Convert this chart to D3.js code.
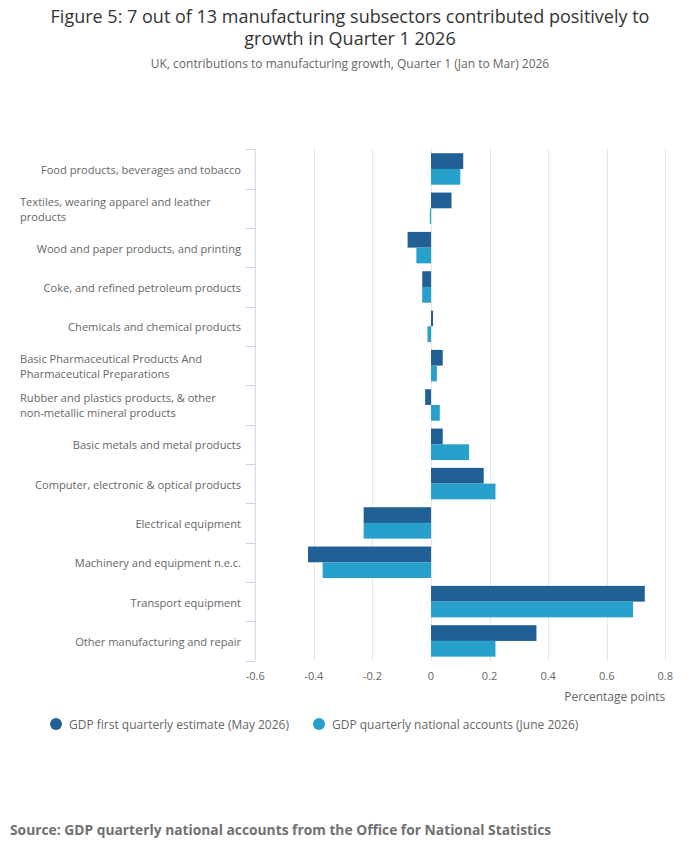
<!DOCTYPE html>
<html><head><meta charset="utf-8">
<script src="https://cdn.jsdelivr.net/npm/d3@7/dist/d3.min.js"></script>
<style>
html,body{margin:0;padding:0;background:#fff;}
svg{display:block;font-family:"Open Sans",sans-serif;}
</style></head>
<body>
<svg id="chart" width="700" height="857"></svg>
<script>
const categories = [
  "Food products, beverages and tobacco",
  "Textiles, wearing apparel and leather products",
  "Wood and paper products, and printing",
  "Coke, and refined petroleum products",
  "Chemicals and chemical products",
  "Basic Pharmaceutical Products And Pharmaceutical Preparations",
  "Rubber and plastics products, & other non-metallic mineral products",
  "Basic metals and metal products",
  "Computer, electronic & optical products",
  "Electrical equipment",
  "Machinery and equipment n.e.c.",
  "Transport equipment",
  "Other manufacturing and repair"
];
const seriesNames = ["GDP first quarterly estimate (May 2026)", "GDP quarterly national accounts (June 2026)"];
const firstEstimate = [0.11, 0.07, -0.08, -0.03, 0.007, 0.04, -0.02, 0.04, 0.18, -0.23, -0.42, 0.73, 0.36];
const quarterlyAccounts = [0.10, -0.004, -0.05, -0.03, -0.012, 0.02, 0.03, 0.13, 0.22, -0.23, -0.37, 0.69, 0.22];
const xTicks = [-0.6, -0.4, -0.2, 0, 0.2, 0.4, 0.6, 0.8];
const titleLines = ["Figure 5: 7 out of 13 manufacturing subsectors contributed positively to", "growth in Quarter 1 2026"];
const subtitle = "UK, contributions to manufacturing growth, Quarter 1 (Jan to Mar) 2026";
const xAxisTitle = "Percentage points";
const source = "Source: GDP quarterly national accounts from the Office for National Statistics";
const colors = ["#206095", "#27a0cc"];

const svg = d3.select("#chart");
const L = 255.3, R = 665.3, T = 149.3, B = 660.6;

// Title
svg.append("text").attr("x", 350).attr("text-anchor", "middle")
  .attr("font-size", 18).attr("fill", "#333")
  .selectAll("tspan").data(titleLines).join("tspan")
  .attr("x", 350).attr("y", (d, i) => 23 + i * 22).text(d => d);
svg.append("text").attr("x", 350).attr("y", 68).attr("text-anchor", "middle")
  .attr("font-size", 12).attr("fill", "#666").text(subtitle);

const x = d3.scaleLinear().domain([-0.6, 0.8]).range([L, R]);
const y = d3.scaleBand().domain(categories).range([T, B]);
// group padding 10% each side
const gp = y.bandwidth() * 0.1;
const sub = d3.scaleBand().domain([0, 1]).range([gp, y.bandwidth() - gp]);

// gridlines
svg.append("g").selectAll("line").data(xTicks.filter(t => t !== -0.6)).join("line")
  .attr("x1", d => Math.round(x(d)) + 0.5).attr("x2", d => Math.round(x(d)) + 0.5)
  .attr("y1", T).attr("y2", B).attr("stroke", "#e6e6e6").attr("stroke-width", 1);

// bars
const data = categories.map((c, i) => ({c, v: [firstEstimate[i], quarterlyAccounts[i]]}));
const groups = svg.append("g").selectAll("g").data(data).join("g")
  .attr("transform", d => `translate(0,${y(d.c)})`);
groups.selectAll("rect").data(d => d.v.map((v, k) => ({v, k}))).join("rect")
  .attr("x", d => Math.min(x(0), x(d.v)))
  .attr("width", d => Math.max(1, Math.abs(x(d.v) - x(0))))
  .attr("y", d => sub(d.k))
  .attr("height", sub.bandwidth())
  .attr("fill", d => colors[d.k]);

// y axis line and ticks
svg.append("line").attr("x1", L).attr("x2", L).attr("y1", T).attr("y2", B)
  .attr("stroke", "#ccd6eb").attr("stroke-width", 1);
const tickYs = categories.map(c => y(c)).concat([B]);
svg.append("g").selectAll("line").data(tickYs).join("line")
  .attr("x1", L - 10).attr("x2", L).attr("y1", d => Math.round(d) + 0.5).attr("y2", d => Math.round(d) + 0.5)
  .attr("stroke", "#ccd6eb").attr("stroke-width", 1);

// category labels with wrapping
const labelRight = 241, labelLeft = 20, maxW = labelRight - labelLeft;
const lg = svg.append("g").attr("font-size", 11.1).attr("fill", "#666");
categories.forEach(c => {
  const cy = y(c) + y.bandwidth() / 2 + 1;
  const t = lg.append("text").attr("x", labelRight).attr("y", cy + 4).attr("text-anchor", "end").text(c);
  if (t.node().getComputedTextLength() > maxW) {
    t.text(null);
    const words = c.split(" ");
    let lines = [], cur = "";
    const probe = lg.append("text");
    words.forEach(w => {
      const test = cur ? cur + " " + w : w;
      probe.text(test);
      if (probe.node().getComputedTextLength() > maxW && cur) { lines.push(cur); cur = w; }
      else cur = test;
    });
    lines.push(cur);
    probe.remove();
    t.attr("text-anchor", "start");
    lines.forEach((ln, i) => {
      t.append("tspan").attr("x", labelLeft)
        .attr("y", cy + 4 + (i - (lines.length - 1) / 2) * 15).text(ln);
    });
  }
});

// x tick labels
svg.append("g").attr("font-size", 11).attr("fill", "#666").attr("text-anchor", "middle")
  .selectAll("text").data(xTicks).join("text")
  .attr("x", d => x(d)).attr("y", 680).text(d => String(d));

svg.append("text").attr("x", R).attr("y", 701).attr("text-anchor", "end")
  .attr("font-size", 12).attr("fill", "#666").text(xAxisTitle);

// legend
const legX = [56, 319];
const leg = svg.append("g");
seriesNames.forEach((n, i) => {
  leg.append("circle").attr("cx", legX[i]).attr("cy", 724).attr("r", 6).attr("fill", colors[i]);
  leg.append("text").attr("x", legX[i] + 13).attr("y", 728.5).attr("font-size", 12).attr("fill", "#666").text(n);
});

// source
svg.append("text").attr("x", 10).attr("y", 835).attr("font-size", 13.8).attr("font-weight", "bold")
  .attr("fill", "#707070").text(source);
</script>
</body></html>
